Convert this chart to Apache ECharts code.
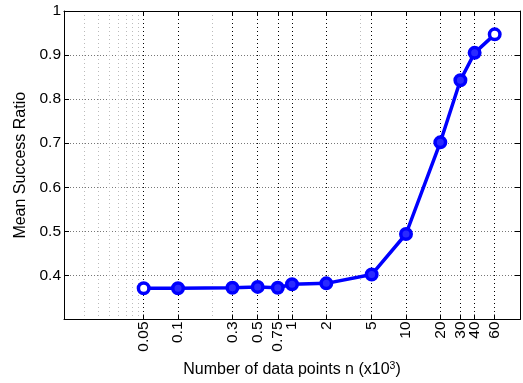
<!DOCTYPE html>
<html><head><meta charset="utf-8">
<script src="https://cdn.jsdelivr.net/npm/echarts@6/dist/echarts.min.js"></script>
<style>html,body{margin:0;padding:0;background:#fff}#c{width:523px;height:383px}</style>
</head><body><div id="c"></div>
<script>
const nValues = [0.05, 0.1, 0.3, 0.5, 0.75, 1, 2, 5, 10, 20, 30, 40, 60];
const successRatio = [0.371, 0.371, 0.372, 0.374, 0.372, 0.380, 0.382, 0.402, 0.494, 0.702, 0.843, 0.905, 0.947];
const xTickValues = [0.05, 0.1, 0.3, 0.5, 0.75, 1, 2, 5, 10, 20, 30, 40, 60];
const xMinorGrid = [0.015, 0.02, 0.025, 0.03, 0.035, 0.04, 0.045, 0.2, 4];
const yTickValues = [0.4, 0.5, 0.6, 0.7, 0.8, 0.9, 1];

const FONT = '"Liberation Sans", Arial, Helvetica, sans-serif';
const chart = echarts.init(document.getElementById('c'), null, {renderer: 'canvas'});
const fmtX = v => String(+(+v).toPrecision(3));
const lastIdx = nValues.length - 1;
chart.setOption({
  animation: false,
  backgroundColor: '#fff',
  grid: {left: 64, top: 11, width: 456, height: 315, containLabel: false},
  xAxis: [
    {
      type: 'log', logBase: 10, min: 0.01, max: 100, position: 'bottom',
      name: 'Number of data points n (x10{sup|3})',
      nameLocation: 'middle', nameGap: 41,
      nameTextStyle: {color: '#000', fontFamily: FONT, fontSize: 16,
        rich: {sup: {fontSize: 10.5, fontFamily: FONT, color: '#000', verticalAlign: 'bottom', padding: [0, 0, 8, 0]}}},
      axisLine: {show: true, onZero: false, lineStyle: {color: '#000', width: 1}},
      axisTick: {show: true, inside: true, length: 5, customValues: xTickValues, lineStyle: {color: '#000'}},
      axisLabel: {show: true, rotate: 90, margin: 2, customValues: xTickValues, formatter: fmtX,
        color: '#000', fontFamily: FONT, fontSize: 15.5},
      splitLine: {show: true, lineStyle: {color: '#000', width: 1, type: [1, 3]}},
      minorTick: {show: false}, minorSplitLine: {show: false}
    },
    {
      type: 'log', logBase: 10, min: 0.01, max: 100, position: 'top',
      axisLine: {show: true, onZero: false, lineStyle: {color: '#000', width: 1}},
      axisTick: {show: true, inside: true, length: 5, customValues: xTickValues, lineStyle: {color: '#000'}},
      axisLabel: {show: false},
      splitLine: {show: false}
    },
    {
      type: 'log', logBase: 10, min: 0.01, max: 100, position: 'bottom',
      axisLine: {show: false},
      axisTick: {show: false, customValues: xMinorGrid},
      axisLabel: {show: false, customValues: xMinorGrid},
      splitLine: {show: true, lineStyle: {color: '#bbb', width: 1, type: [1, 3]}}
    }
  ],
  yAxis: [
    {
      type: 'value', min: 0.3, max: 1, interval: 0.1, position: 'left',
      name: 'Mean Success Ratio', nameLocation: 'middle', nameGap: 32,
      nameTextStyle: {color: '#000', fontFamily: FONT, fontSize: 16},
      axisLine: {show: true, onZero: false, lineStyle: {color: '#000', width: 1}},
      axisTick: {show: true, inside: true, length: 5, customValues: yTickValues, lineStyle: {color: '#000'}},
      axisLabel: {show: true, margin: 3, customValues: yTickValues, color: '#000', fontFamily: FONT, fontSize: 15.5,
        formatter: v => String(+(+v).toFixed(1))},
      splitLine: {show: true, lineStyle: {color: '#777', width: 1, type: [1, 2]}}
    },
    {
      type: 'value', min: 0.3, max: 1, interval: 0.1, position: 'right',
      axisLine: {show: true, onZero: false, lineStyle: {color: '#000', width: 1}},
      axisTick: {show: true, inside: true, length: 5, customValues: yTickValues, lineStyle: {color: '#000'}},
      axisLabel: {show: false},
      splitLine: {show: false}
    }
  ],
  series: [{
    type: 'line', xAxisIndex: 0, yAxisIndex: 0,
    data: nValues.map((n, i) => [n, successRatio[i]]),
    symbol: 'circle', symbolSize: 10.5,
    lineStyle: {color: '#0000ff', width: 3.5},
    itemStyle: {
      color: p => (p.dataIndex === 0 || p.dataIndex === lastIdx) ? '#ffffff' : '#2a2aff',
      borderColor: '#0000ff', borderWidth: 3.5
    },
    emphasis: {disabled: true}
  }]
});
</script></body></html>
